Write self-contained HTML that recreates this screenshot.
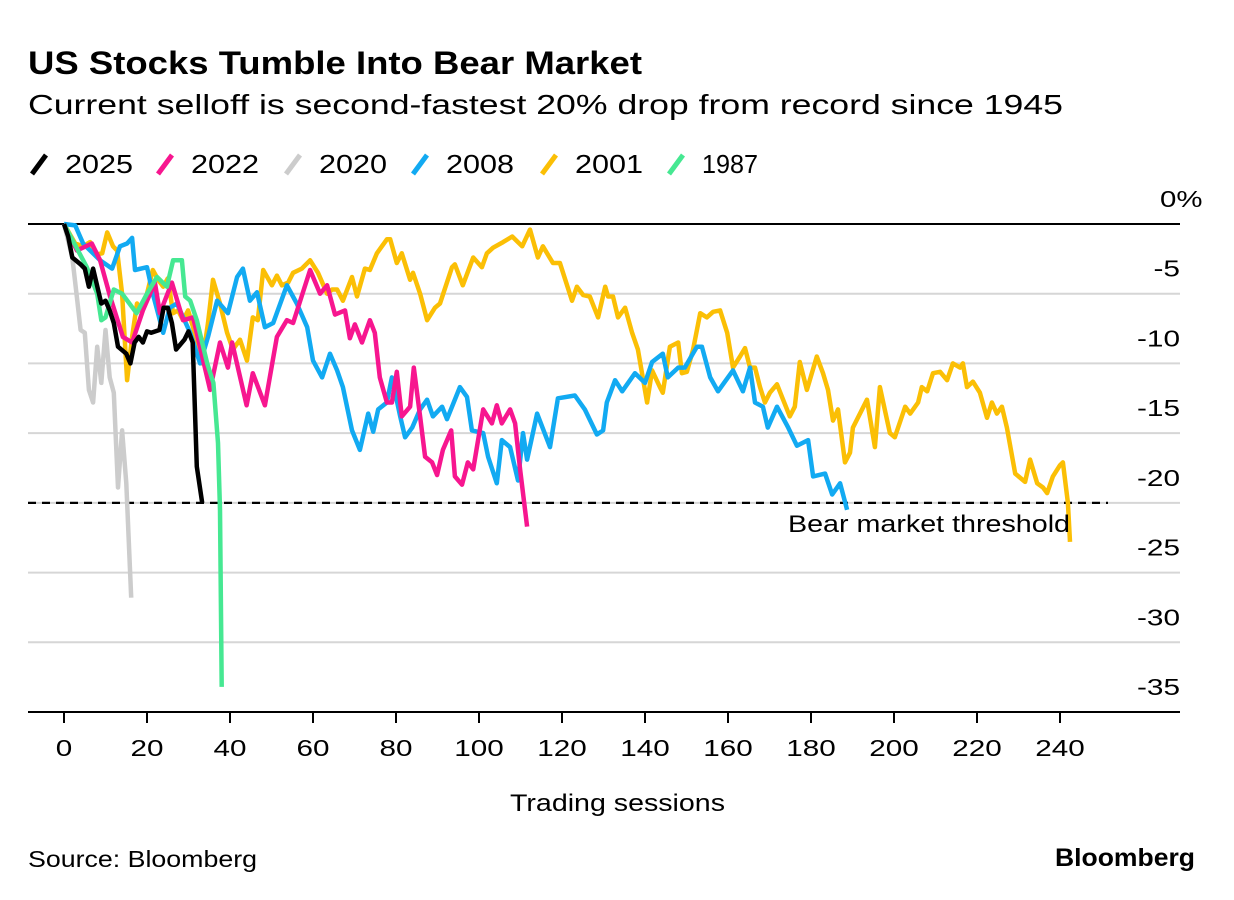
<!DOCTYPE html>
<html><head><meta charset="utf-8"><style>
html,body{margin:0;padding:0;background:#fff;}
svg{display:block;font-family:"Liberation Sans",Arial,sans-serif;}
</style></head><body>
<svg id="chart" width="1234" height="900" viewBox="0 0 1234 900" xmlns="http://www.w3.org/2000/svg">
<text x="28" y="74" font-size="32" font-weight="bold" fill="#000" textLength="614" lengthAdjust="spacingAndGlyphs">US Stocks Tumble Into Bear Market</text>
<text x="28" y="114" font-size="28" fill="#000" textLength="1035" lengthAdjust="spacingAndGlyphs">Current selloff is second-fastest 20% drop from record since 1945</text>
<g id="legend"></g>
<g id="grid"></g>
<g id="series"></g>
<g id="xaxis"></g>
<text x="510" y="811" font-size="24" fill="#000" textLength="215" lengthAdjust="spacingAndGlyphs">Trading sessions</text>
<text x="788" y="532" font-size="24" fill="#000" textLength="282" lengthAdjust="spacingAndGlyphs">Bear market threshold</text>
<text x="28" y="867" font-size="23" fill="#000" textLength="229" lengthAdjust="spacingAndGlyphs">Source: Bloomberg</text>
<text x="1055" y="866" font-size="25" font-weight="bold" fill="#000" textLength="140" lengthAdjust="spacingAndGlyphs">Bloomberg</text>
</svg>
<script>
const yTicks = [0,-5,-10,-15,-20,-25,-30,-35];
const yTickLabels = ["0%","-5","-10","-15","-20","-25","-30","-35"];
const xTicks = [0,20,40,60,80,100,120,140,160,180,200,220,240];
const threshold = -20;
const seriesNames = ["2025","2022","2020","2008","2001","1987"];

const x2025 = [0,1,2,4,5,6,7,9,10,11,12,13,15,16,17,18,19,20,21,23,24,25,26,27,29,30,31,32,33.3];
const y2025 = [0,-0.9,-2.4,-2.9,-3.2,-4.5,-3.2,-5.7,-5.5,-6.2,-7.1,-8.8,-9.3,-10,-8.5,-8.1,-8.5,-7.7,-7.8,-7.6,-6,-6,-7.1,-9,-8.3,-7.7,-8.5,-17.4,-20];

const x2020 = [0,2,3,4,5,6,7,8,9,10,11,12,13,14,15,16.2];
const y2020 = [0,-2.4,-5,-7.6,-7.8,-11.9,-12.8,-8.8,-11.4,-7.6,-11,-12.1,-18.9,-14.8,-18.6,-26.8];

const x1987 = [0,5.5,8,9,10,12,14,17.5,20,22.4,24.8,26.3,28.4,29.2,30.4,32,34.5,36,37.1,37.6,38];
const y1987 = [0,-3.1,-5,-6.9,-6.7,-4.7,-5,-6.4,-5,-3.8,-4.5,-2.6,-2.6,-5.2,-5.5,-6.9,-10,-11.4,-15.7,-20.5,-33.2];

const x2022 = [0,3.1,6.7,8.7,11.1,14.2,16.4,19,21.9,23.1,26,28.7,31.1,35.2,37.6,39.5,40.5,44,45.5,48.4,51.3,53.7,55.2,59.3,61.7,63.4,65.3,67.7,68.9,70.1,71.8,73.7,74.9,76.1,77.8,79,80.2,81.4,83.4,84.3,85.8,87,88.7,89.9,91.3,93.3,94.2,95.9,97.3,98.6,101,103.1,104.3,105.5,107.5,108.7,109.9,111.6];
const y2022 = [0,-1.9,-1.4,-2.6,-5.2,-8.1,-8.5,-6.2,-4.2,-6.4,-4.2,-6.9,-6.7,-11.9,-8.5,-10.3,-8.5,-13,-10.7,-13,-8.1,-6.9,-7.1,-3.3,-5,-4.4,-6.5,-6.2,-8.2,-7.2,-8.5,-6.9,-7.8,-11,-12.8,-12.8,-10.6,-13.8,-13.1,-10.3,-13.8,-16.7,-17.1,-18,-16.2,-14.8,-18.1,-18.7,-17.1,-17.6,-13.3,-14.3,-13,-14.3,-13.3,-14.3,-17.6,-21.7];

const x2008 = [0,2.7,4.6,8.7,11.6,13.5,15.2,16.4,17.1,20,21.4,23.9,25.5,27.2,30.4,32.8,34.7,36.9,39.5,41.7,43.1,44.8,46.5,48.4,50.4,53.7,56.1,58.6,60,62.2,64.1,65.8,67.2,69.4,71.3,73.3,74.5,75.7,77.8,79,81,82.2,83.9,85.8,87.5,88.9,91.1,92.3,95.4,97.1,98.3,101,102.2,104.3,105.5,107.5,109.4,110.6,111.6,114,117.1,119,123.1,125.5,128.4,129.9,130.8,132.8,134.5,137.6,140,141.7,144.3,145.5,148,149.6,152.5,153.7,155.7,157.6,161.2,163.6,165.3,166.5,168.4,169.6,171.8,174.5,176.6,179.3,180.5,183.4,185.1,187,188.7];
const y2008 = [0,-0.1,-1.4,-2.6,-3.2,-1.6,-1.4,-1,-3.3,-3.1,-5,-7.8,-6,-5.7,-7.8,-10,-8.1,-5.5,-6.4,-3.8,-3.2,-5.5,-4.9,-7.4,-7.1,-4.4,-5.7,-7.4,-9.8,-11,-9.3,-10.5,-11.7,-14.8,-16.2,-13.6,-14.9,-13.3,-12.8,-11,-13.8,-15.3,-14.6,-13.3,-12.6,-13.8,-13.1,-14,-11.7,-12.4,-14.8,-15,-16.7,-18.6,-15.5,-16,-18.4,-15,-16.9,-13.6,-16,-12.5,-12.3,-13.3,-15.1,-14.8,-12.8,-11.2,-12,-10.7,-11.4,-9.9,-9.3,-11,-10.3,-10.3,-8.8,-8.8,-11,-12,-10.5,-12,-10.3,-12.8,-13.1,-14.6,-13.1,-14.6,-15.9,-15.5,-18.1,-17.9,-19.4,-18.6,-20.5];

const x2001 = [0,2.7,4.6,6.3,7.5,9.2,10.4,11.8,12.8,14,15.2,16.4,17.6,18.3,20,21.4,22.7,23.9,25,26.3,27.5,28.7,29.9,31.1,33.3,34.7,35.9,37.6,39.3,40.7,42.4,44.1,45.5,46.7,48,50.1,51.3,52.5,54,55.2,57.3,59.3,61.2,63.4,64.6,65.8,67.2,69.4,70.6,72.5,73.7,75.4,77.8,78.6,80.2,81.4,83.4,84.1,85.8,87.5,89.4,90.6,93.5,94.2,96.1,98.6,100.7,101.9,103.4,105.8,108,110.4,112.3,114.2,115.4,117.8,119.5,122.4,123.6,125.1,126.7,128.7,130.4,131.1,132.3,133.5,135.2,136.9,138.3,140.5,141.7,143.6,144.3,146,148,148.9,150.1,151.6,153.3,154.9,156.4,158.1,159.8,161.2,162.9,164.1,165.3,166.5,167.7,168.9,170.1,171.8,173,174.9,176.1,177.3,179,181.4,182.9,184.1,185.3,186.5,188.2,189.4,190.1,193.5,195.4,196.6,199,200.2,202.7,203.9,205.8,206.7,208,209.4,211.1,212.8,214.2,215.9,216.6,217.6,219,220.7,222.4,223.6,224.8,226,227.2,229.2,231.6,232.8,234.5,235.9,236.9,238.3,240,240.7,241.9,242.4];
const y2001 = [0,-1.4,-1.6,-1.3,-2.2,-2.1,-0.6,-1.6,-1.9,-5,-11.2,-8.1,-5.7,-6.2,-5,-3.3,-4,-4.5,-3.9,-6.4,-6.2,-6.9,-6.2,-7.4,-10,-7.1,-4,-5.7,-7.8,-9,-8.3,-9.8,-6.7,-6.9,-3.3,-4.4,-3.7,-4.4,-4.2,-3.5,-3.2,-2.6,-3.5,-5,-4.7,-4.7,-5.5,-3.8,-5.2,-3.2,-3.3,-2.1,-1.1,-1.1,-2.8,-2.1,-4,-3.5,-5,-6.9,-6,-5.7,-3.1,-2.9,-4.4,-2.4,-3.1,-2.1,-1.7,-1.3,-0.9,-1.6,-0.4,-2.4,-1.6,-2.8,-2.8,-5.5,-4.5,-5.1,-5.2,-6.7,-4.5,-5.2,-5.2,-6.7,-6,-7.8,-9,-12.8,-10.5,-11.7,-12.1,-8.8,-8.5,-10.7,-10.6,-9,-6.4,-6.7,-6.3,-6.2,-7.8,-10.3,-9.5,-8.9,-10.3,-10.3,-11.7,-12.8,-12.1,-11.5,-12.4,-13.8,-13.1,-9.9,-11.9,-9.5,-10.7,-11.9,-14.1,-13.3,-17.1,-16.4,-14.6,-12.6,-16,-11.7,-15,-15.3,-13.1,-13.6,-12.8,-11.7,-12,-10.7,-10.6,-11.2,-10,-10.3,-10,-11.7,-11.3,-12.1,-13.9,-12.8,-13.6,-13.1,-14.6,-17.9,-18.5,-16.9,-18.6,-18.9,-19.3,-18.1,-17.3,-17.1,-20,-22.8];

const NS = "http://www.w3.org/2000/svg";
const X0 = 64, XPX = (1060 - 64) / 240;
const Y0 = 224, YPX = (712 - 224) / 35;
function xs(v){ return X0 + v * XPX; }
function ys(v){ return Y0 - v * YPX; }
function mk(tag, attrs, parent){
  const el = document.createElementNS(NS, tag);
  for (const k in attrs) el.setAttribute(k, attrs[k]);
  parent.appendChild(el);
  return el;
}
function numWidth(s){ let w = 0; for (const c of s) w += (c === '-') ? 10 : (c === '%' ? 26 : 16.5); return w; }

const grid = document.getElementById('grid');
yTicks.forEach((t, i) => {
  const ln = mk('line', {x1:28, x2:1180, y1:ys(t), y2:ys(t), stroke: t===0 ? '#000' : '#d6d6d6', 'stroke-width': 2}, grid);
  
  
  const lab = yTickLabels[i];
  const w = numWidth(lab);
  const xStart = (t === 0) ? 1160 : 1180 - w;
  const tx = mk('text', {x:xStart, y:ys(t) - 17, 'font-size':23, fill:'#000', textLength:w, lengthAdjust:'spacingAndGlyphs'}, grid);
  tx.textContent = lab;
  
  
});
const thr = mk('line', {x1:28, x2:1108, y1:ys(threshold), y2:ys(threshold), stroke:'#000', 'stroke-width':2.2, 'stroke-dasharray':'8,6'}, grid);



const xa = document.getElementById('xaxis');
const axl = mk('line', {x1:28, x2:1180, y1:712, y2:712, stroke:'#000', 'stroke-width':2}, xa);


xTicks.forEach(t => {
  const tk = mk('line', {x1:xs(t), x2:xs(t), y1:712, y2:723, stroke:'#000', 'stroke-width':2}, xa);
  
  
  const s = String(t);
  const w = numWidth(s);
  const tx = mk('text', {x:xs(t) - w/2, y:756, 'font-size':23, fill:'#000', textLength:w, lengthAdjust:'spacingAndGlyphs'}, xa);
  tx.textContent = s;
  
  
});

const colors = {"2025":"#000000","2022":"#f7168f","2020":"#cccccc","2008":"#12aaf2","2001":"#fbbf05","1987":"#46e892"};
const seriesX = {"2025":x2025,"2022":x2022,"2020":x2020,"2008":x2008,"2001":x2001,"1987":x1987};
const seriesY = {"2025":y2025,"2022":y2022,"2020":y2020,"2008":y2008,"2001":y2001,"1987":y1987};
const drawOrder = ["2001","2008","2022","1987","2020","2025"];
const sg = document.getElementById('series');
drawOrder.forEach(n => {
  const xv = seriesX[n], yv = seriesY[n];
  const d = xv.map((v, i) => (i ? 'L' : 'M') + xs(v).toFixed(1) + ',' + ys(yv[i]).toFixed(1)).join(' ');
  const p = mk('path', {d:d, fill:'none', stroke:colors[n], 'stroke-width':4.5, 'stroke-linejoin':'round', 'stroke-linecap':'butt'}, sg);
  
  
});

const lg = document.getElementById('legend');
const legendX = [30, 156, 284, 411, 540, 667];
seriesNames.forEach((n, i) => {
  const g = mk('g', {}, lg);
  
  
  const x = legendX[i];
  mk('line', {x1:x+2, y1:174, x2:x+16, y2:155, stroke:colors[n], 'stroke-width':5}, g);
  const t = mk('text', {x:x+35, y:173, 'font-size':26, fill:'#000', textLength: n === '1987' ? 56 : 68, lengthAdjust:'spacingAndGlyphs'}, g);
  t.textContent = n;
});
</script>
</body></html>
